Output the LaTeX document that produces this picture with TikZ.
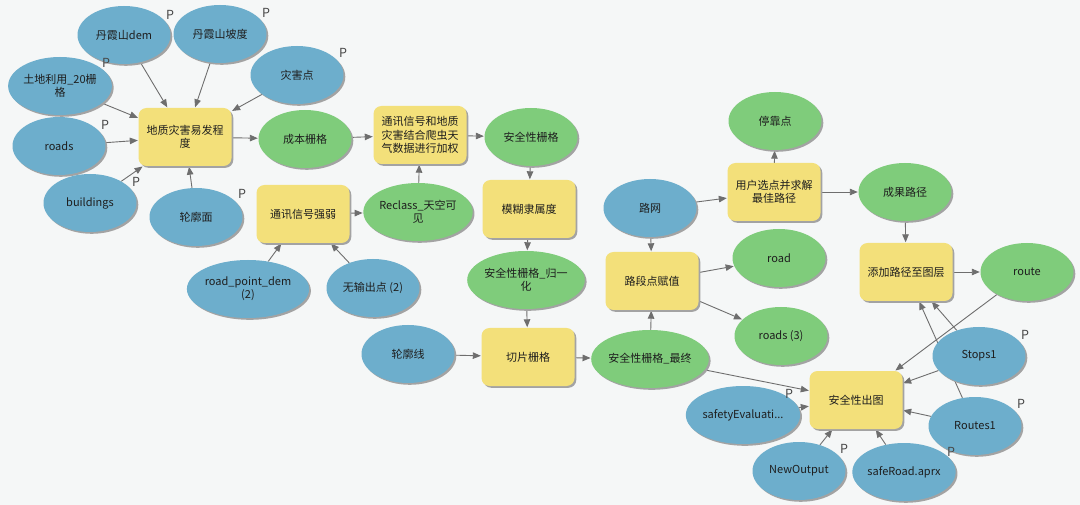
\documentclass[tikz,border=0pt]{standalone}
\usepackage{fontspec}
\setmainfont{Noto Sans CJK SC}
\usetikzlibrary{shapes.geometric,arrows.meta,shadows}
\definecolor{bg}{HTML}{F5F7F7}
\definecolor{bluef}{HTML}{6DAECC}
\definecolor{greenf}{HTML}{7FCC7B}
\definecolor{yellowf}{HTML}{F3E07A}
\definecolor{arrc}{HTML}{6E6E6E}
\definecolor{txt}{HTML}{1E1E1E}
\definecolor{shd}{HTML}{A3A3A3}
\pgfdeclarelayer{bglayer}
\pgfdeclarelayer{edgelayer}
\pgfsetlayers{bglayer,edgelayer,main}
\tikzset{
  base/.style={font=\fontsize{11}{13.3}\selectfont, text=txt, align=center, inner sep=0pt,
    minimum width=93pt, minimum height=58pt,
    drop shadow={shadow xshift=1.8pt, shadow yshift=-1.8pt, fill=shd, opacity=1}},
  inp/.style={base, ellipse, fill=bluef},
  outp/.style={base, ellipse, fill=greenf},
  tool/.style={base, rectangle, rounded corners=8pt, fill=yellowf},
  plabel/.style={font=\fontsize{12.5}{14}\selectfont, text=black!72, inner sep=0pt},
  arr/.style={draw=arrc, line width=0.9pt, -{Triangle[length=8pt,width=6.5pt]}, shorten >=0.5pt}
}
\begin{document}
\begin{tikzpicture}[x=1pt,y=-1pt]
\begin{pgfonlayer}{bglayer}
\fill[bg] (0,0) rectangle (1080,505);
\end{pgfonlayer}
\useasboundingbox (0,0) rectangle (1080,505);

% blue inputs
\node[inp] (dem) at (124,35) {丹霞山dem};
\node[inp] (slope) at (220,34) {丹霞山坡度};
\node[inp] (hazard) at (297,75) {灾害点};
\node[inp] (landuse) at (60,86) {土地利用\_20栅\\格};
\node[inp] (roads) at (59,146) {roads};
\node[inp] (buildings) at (90,203) {buildings};
\node[inp] (outline) at (196,217) {轮廓面};
\node[inp] (rpd) at (248,289) {road\_point\_dem\\(2)};
\node[inp] (noout) at (373,288) {无输出点 (2)};
\node[inp] (roadnet) at (650,208) {路网};
\node[inp] (contour) at (408,354) {轮廓线};
\node[inp] (stops) at (979,356) {Stops1};
\node[inp] (routes) at (975,426) {Routes1};
\node[inp] (safeeval) at (743,415) {safetyEvaluati...};
\node[inp] (newout) at (799,471) {NewOutput};
\node[inp] (aprx) at (904,472) {safeRoad.aprx};

% tools
\node[tool] (geo) at (185,137) {地质灾害易发程\\度};
\node[tool] (signal) at (303,214) {通讯信号强弱};
\node[tool] (weight) at (420,135) {通讯信号和地质\\灾害结合爬虫天\\气数据进行加权};
\node[tool] (fuzzy) at (529,209) {模糊隶属度};
\node[tool] (clip) at (528,357) {切片栅格};
\node[tool] (assign) at (652,281) {路段点赋值};
\node[tool] (solve) at (774,192) {用户选点并求解\\最佳路径};
\node[tool] (addroute) at (906,272) {添加路径至图层};
\node[tool] (mapout) at (856,400) {安全性出图};

% green outputs
\node[outp] (cost) at (305,139) {成本栅格};
\node[outp] (reclass) at (418,212) {Reclass\_天空可\\见};
\node[outp] (safe) at (531,137) {安全性栅格};
\node[outp] (norm) at (526,280) {安全性栅格\_归一\\化};
\node[outp] (final) at (650,359) {安全性栅格\_最终};
\node[outp] (stop) at (775,121) {停靠点};
\node[outp] (result) at (905,192) {成果路径};
\node[outp] (road) at (779,258) {road};
\node[outp] (route) at (1027,272) {route};
\node[outp] (roads3) at (781,336) {roads (3)};

% P labels
\node[plabel] (p1) at (170,15) {P};
\node[plabel] (p2) at (266,13) {P};
\node[plabel] (p3) at (343,53) {P};
\node[plabel] (p4) at (106,63) {P};
\node[plabel] (p5) at (105,125) {P};
\node[plabel] (p6) at (136,182) {P};
\node[plabel] (p7) at (242,194) {P};
\node[plabel] (p8) at (1025,335) {P};
\node[plabel] (p9) at (1021,404) {P};
\node[plabel] (p10) at (789,394) {P};
\node[plabel] (p11) at (844,449) {P};
\node[plabel] (p12) at (951,452) {P};

% connectors (behind nodes)
\begin{pgfonlayer}{edgelayer}
\path[arr] (dem) -- (geo);
\path[arr] (slope) -- (geo);
\path[arr] (hazard) -- (geo);
\path[arr] (landuse) -- (geo);
\path[arr] (roads) -- (geo);
\path[arr] (buildings) -- (geo);
\path[arr] (outline) -- (geo);
\path[arr] (geo) -- (cost);
\path[arr] (cost) -- (weight);
\path[arr] (reclass) -- (weight);
\path[arr] (signal) -- (reclass);
\path[arr] (rpd) -- (signal);
\path[arr] (noout) -- (signal);
\path[arr] (weight) -- (safe);
\path[arr] (safe) -- (fuzzy);
\path[arr] (fuzzy) -- (norm);
\path[arr] (norm) -- (clip);
\path[arr] (contour) -- (clip);
\path[arr] (clip) -- (final);
\path[arr] (final) -- (assign);
\path[arr] (roadnet) -- (assign);
\path[arr] (assign) -- (road);
\path[arr] (assign) -- (roads3);
\path[arr] (final) -- (mapout);
\path[arr] (roadnet) -- (solve);
\path[arr] (solve) -- (stop);
\path[arr] (solve) -- (result);
\path[arr] (result) -- (addroute);
\path[arr] (addroute) -- (route);
\path[arr] (route) -- (mapout);
\path[arr] (stops) -- (addroute);
\path[arr] (routes) -- (addroute);
\path[arr] (stops) -- (mapout);
\path[arr] (routes) -- (mapout);
\path[arr] (safeeval) -- (mapout);
\path[arr] (newout) -- (mapout);
\path[arr] (aprx) -- (mapout);
\end{pgfonlayer}
\end{tikzpicture}
\end{document}
